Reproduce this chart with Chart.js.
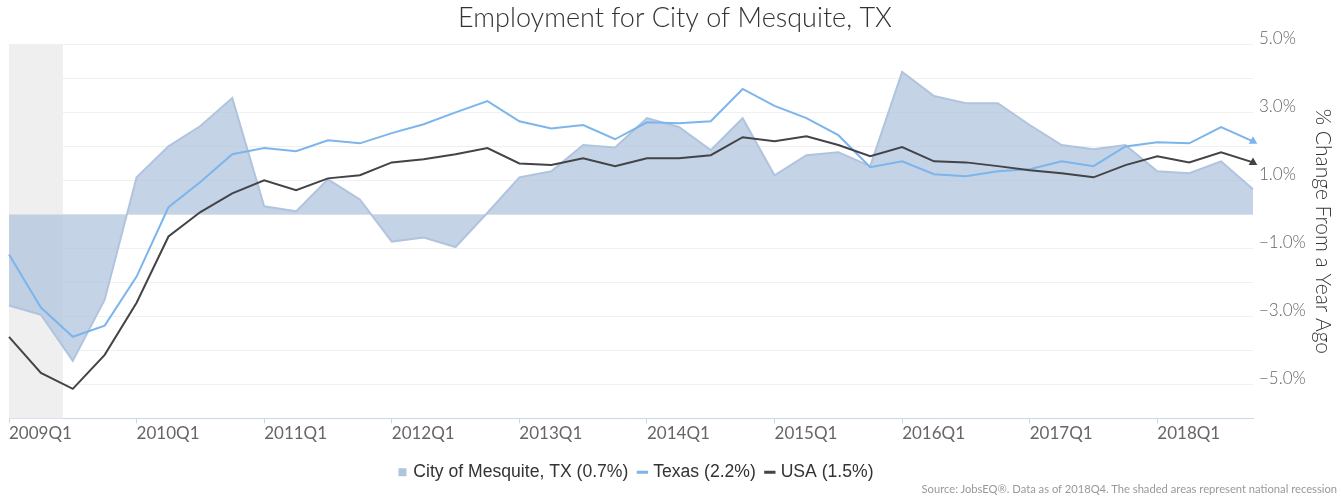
<!DOCTYPE html>
<html>
<head>
<meta charset="utf-8">
<script src="https://cdn.jsdelivr.net/npm/chart.js@4.4.0/dist/chart.umd.min.js"></script>
<style>
body{margin:0;background:#fff;}
#wrap{position:relative;width:1341px;height:496px;}
#source{position:absolute;right:4px;bottom:1px;font:11.2px "Lato",sans-serif;color:#999;white-space:nowrap;}
</style>
</head>
<body>
<div id="wrap">
<canvas id="empChart"></canvas>
<div id="source">Source: JobsEQ®. Data as of 2018Q4. The shaded areas represent national recession</div>
</div>
<script>
const quarters = [
  '2009Q1','2009Q2','2009Q3','2009Q4','2010Q1','2010Q2','2010Q3','2010Q4',
  '2011Q1','2011Q2','2011Q3','2011Q4','2012Q1','2012Q2','2012Q3','2012Q4',
  '2013Q1','2013Q2','2013Q3','2013Q4','2014Q1','2014Q2','2014Q3','2014Q4',
  '2015Q1','2015Q2','2015Q3','2015Q4','2016Q1','2016Q2','2016Q3','2016Q4',
  '2017Q1','2017Q2','2017Q3','2017Q4','2018Q1','2018Q2','2018Q3','2018Q4'
];
const mesquite = [
  -2.68,-2.95,-4.31,-2.51, 1.09, 2.00, 2.60, 3.42,
   0.24, 0.09, 1.03, 0.44,-0.80,-0.68,-0.96, 0.05,
   1.09, 1.27, 2.04, 1.97, 2.83, 2.57, 1.89, 2.83,
   1.15, 1.74, 1.83, 1.42, 4.19, 3.48, 3.27, 3.27,
   2.63, 2.04, 1.92, 2.04, 1.27, 1.21, 1.56, 0.74
];
const texas = [
  -1.18,-2.74,-3.60,-3.27,-1.83, 0.21, 0.95, 1.77,
   1.95, 1.86, 2.18, 2.09, 2.39, 2.65, 3.00, 3.33,
   2.74, 2.53, 2.63, 2.21, 2.71, 2.68, 2.74, 3.69,
   3.19, 2.83, 2.33, 1.39, 1.56, 1.18, 1.12, 1.27,
   1.33, 1.56, 1.42, 2.00, 2.12, 2.09, 2.57, 2.15
];
const usa = [
  -3.60,-4.66,-5.13,-4.13,-2.60,-0.65, 0.07, 0.62,
   1.00, 0.71, 1.06, 1.15, 1.53, 1.62, 1.77, 1.95,
   1.50, 1.45, 1.65, 1.42, 1.65, 1.65, 1.74, 2.27,
   2.15, 2.30, 2.04, 1.71, 1.98, 1.56, 1.53, 1.42,
   1.30, 1.21, 1.09, 1.45, 1.71, 1.53, 1.83, 1.53
];
const seriesNames = ['City of Mesquite, TX (0.7%)', 'Texas (2.2%)', 'USA (1.5%)'];
const yLabelValues = [5, 3, 1, -1, -3, -5];
const recessionEnd = 1.69; // position on the quarter axis where the recession shading stops

const recessionBand = {
  id: 'recessionBand',
  beforeDatasetsDraw(chart) {
    const {ctx, chartArea, scales} = chart;
    const x0 = scales.x.getPixelForValue(0);
    const x1 = scales.x.getPixelForValue(recessionEnd);
    ctx.save();
    ctx.fillStyle = '#efefef';
    ctx.fillRect(x0, chartArea.top, x1 - x0, chartArea.bottom - chartArea.top);
    ctx.restore();
  }
};

// center the legend under the plot area instead of the whole canvas
const legendUnderPlot = {
  id: 'legendUnderPlot',
  beforeDraw(chart) {
    if (!chart.legend) return;
    chart.legend.left = chart.chartArea.left;
    chart.legend.right = chart.chartArea.right + 12;
  }
};

const lastPoint = c => c.dataIndex === quarters.length - 1 ? 3 : 0;

new Chart(document.getElementById('empChart'), {
  type: 'line',
  data: {
    labels: quarters,
    datasets: [
      {
        label: seriesNames[0], data: mesquite, fill: 'origin',
        backgroundColor: 'rgba(176,196,222,0.75)', borderColor: '#b0c4de',
        borderWidth: 2, pointRadius: 0, tension: 0, order: 3
      },
      {
        label: seriesNames[1], data: texas, fill: false,
        borderColor: '#7cb5ec', backgroundColor: '#7cb5ec',
        borderWidth: 2, pointRadius: lastPoint, pointStyle: 'triangle', tension: 0, order: 2
      },
      {
        label: seriesNames[2], data: usa, fill: false,
        borderColor: '#434348', backgroundColor: '#434348',
        borderWidth: 2, pointRadius: lastPoint, pointStyle: 'triangle', tension: 0, order: 1
      }
    ]
  },
  options: {
    responsive: true,
    maintainAspectRatio: false,
    animation: false,
    layout: { padding: { left: 9, right: 0, top: 0, bottom: 5 } },
    plugins: {
      title: {
        display: true,
        text: 'Employment for City of Mesquite, TX',
        color: '#333',
        font: { family: 'Lato', size: 27, weight: 300 },
        padding: { top: 2, bottom: 10 }
      },
      legend: {
        position: 'bottom',
        labels: {
          usePointStyle: true,
          boxWidth: 4,
          boxHeight: 8,
          padding: 12,
          color: '#333',
          font: { family: 'Liberation Sans', size: 17.6 },
          sort: (a, b) => a.datasetIndex - b.datasetIndex,
          generateLabels(chart) {
            const items = Chart.defaults.plugins.legend.labels.generateLabels(chart);
            items.forEach(it => {
              if (it.datasetIndex === 0) {
                it.pointStyle = 'rect';
                it.fillStyle = '#b0c4de';
                it.strokeStyle = '#b0c4de';
                it.lineWidth = 0;
              } else {
                it.pointStyle = 'line';
                it.lineWidth = 3;
              }
            });
            return items;
          }
        }
      },
      tooltip: { enabled: false }
    },
    scales: {
      x: {
        offset: false,
        border: { display: true, color: '#ccd6eb' },
        grid: {
          drawOnChartArea: false,
          drawTicks: true,
          tickLength: 5,
          color: c => (quarters[c.index] || '').endsWith('Q1') ? '#ccd6eb' : 'rgba(0,0,0,0)'
        },
        ticks: {
          autoSkip: false,
          maxRotation: 0,
          align: 'start',
          padding: 0,
          color: '#666',
          font: { family: 'Lato', size: 17 },
          callback: (v, i) => quarters[i].endsWith('Q1') ? quarters[i] : ''
        },
        afterFit(scale) { scale.height = 33; }
      },
      y: {
        position: 'right',
        min: -6,
        max: 5,
        border: { display: false },
        grid: { color: '#f0f0f0', drawTicks: false },
        ticks: {
          stepSize: 1,
          padding: 6,
          labelOffset: -6,
          color: '#666',
          font: { family: 'Lato', size: 17, weight: 300 },
          callback: v => yLabelValues.includes(v) ? (v < 0 ? '\u2212' : '') + Math.abs(v).toFixed(1) + '%' : ''
        },
        title: {
          display: true,
          text: '% Change From a Year Ago',
          color: '#333',
          font: { family: 'Lato', size: 21, weight: 300 },
          padding: { top: 6, bottom: 6 }
        },
        afterFit(scale) { scale.width = 88; }
      }
    }
  },
  plugins: [recessionBand, legendUnderPlot]
});
</script>
</body>
</html>
